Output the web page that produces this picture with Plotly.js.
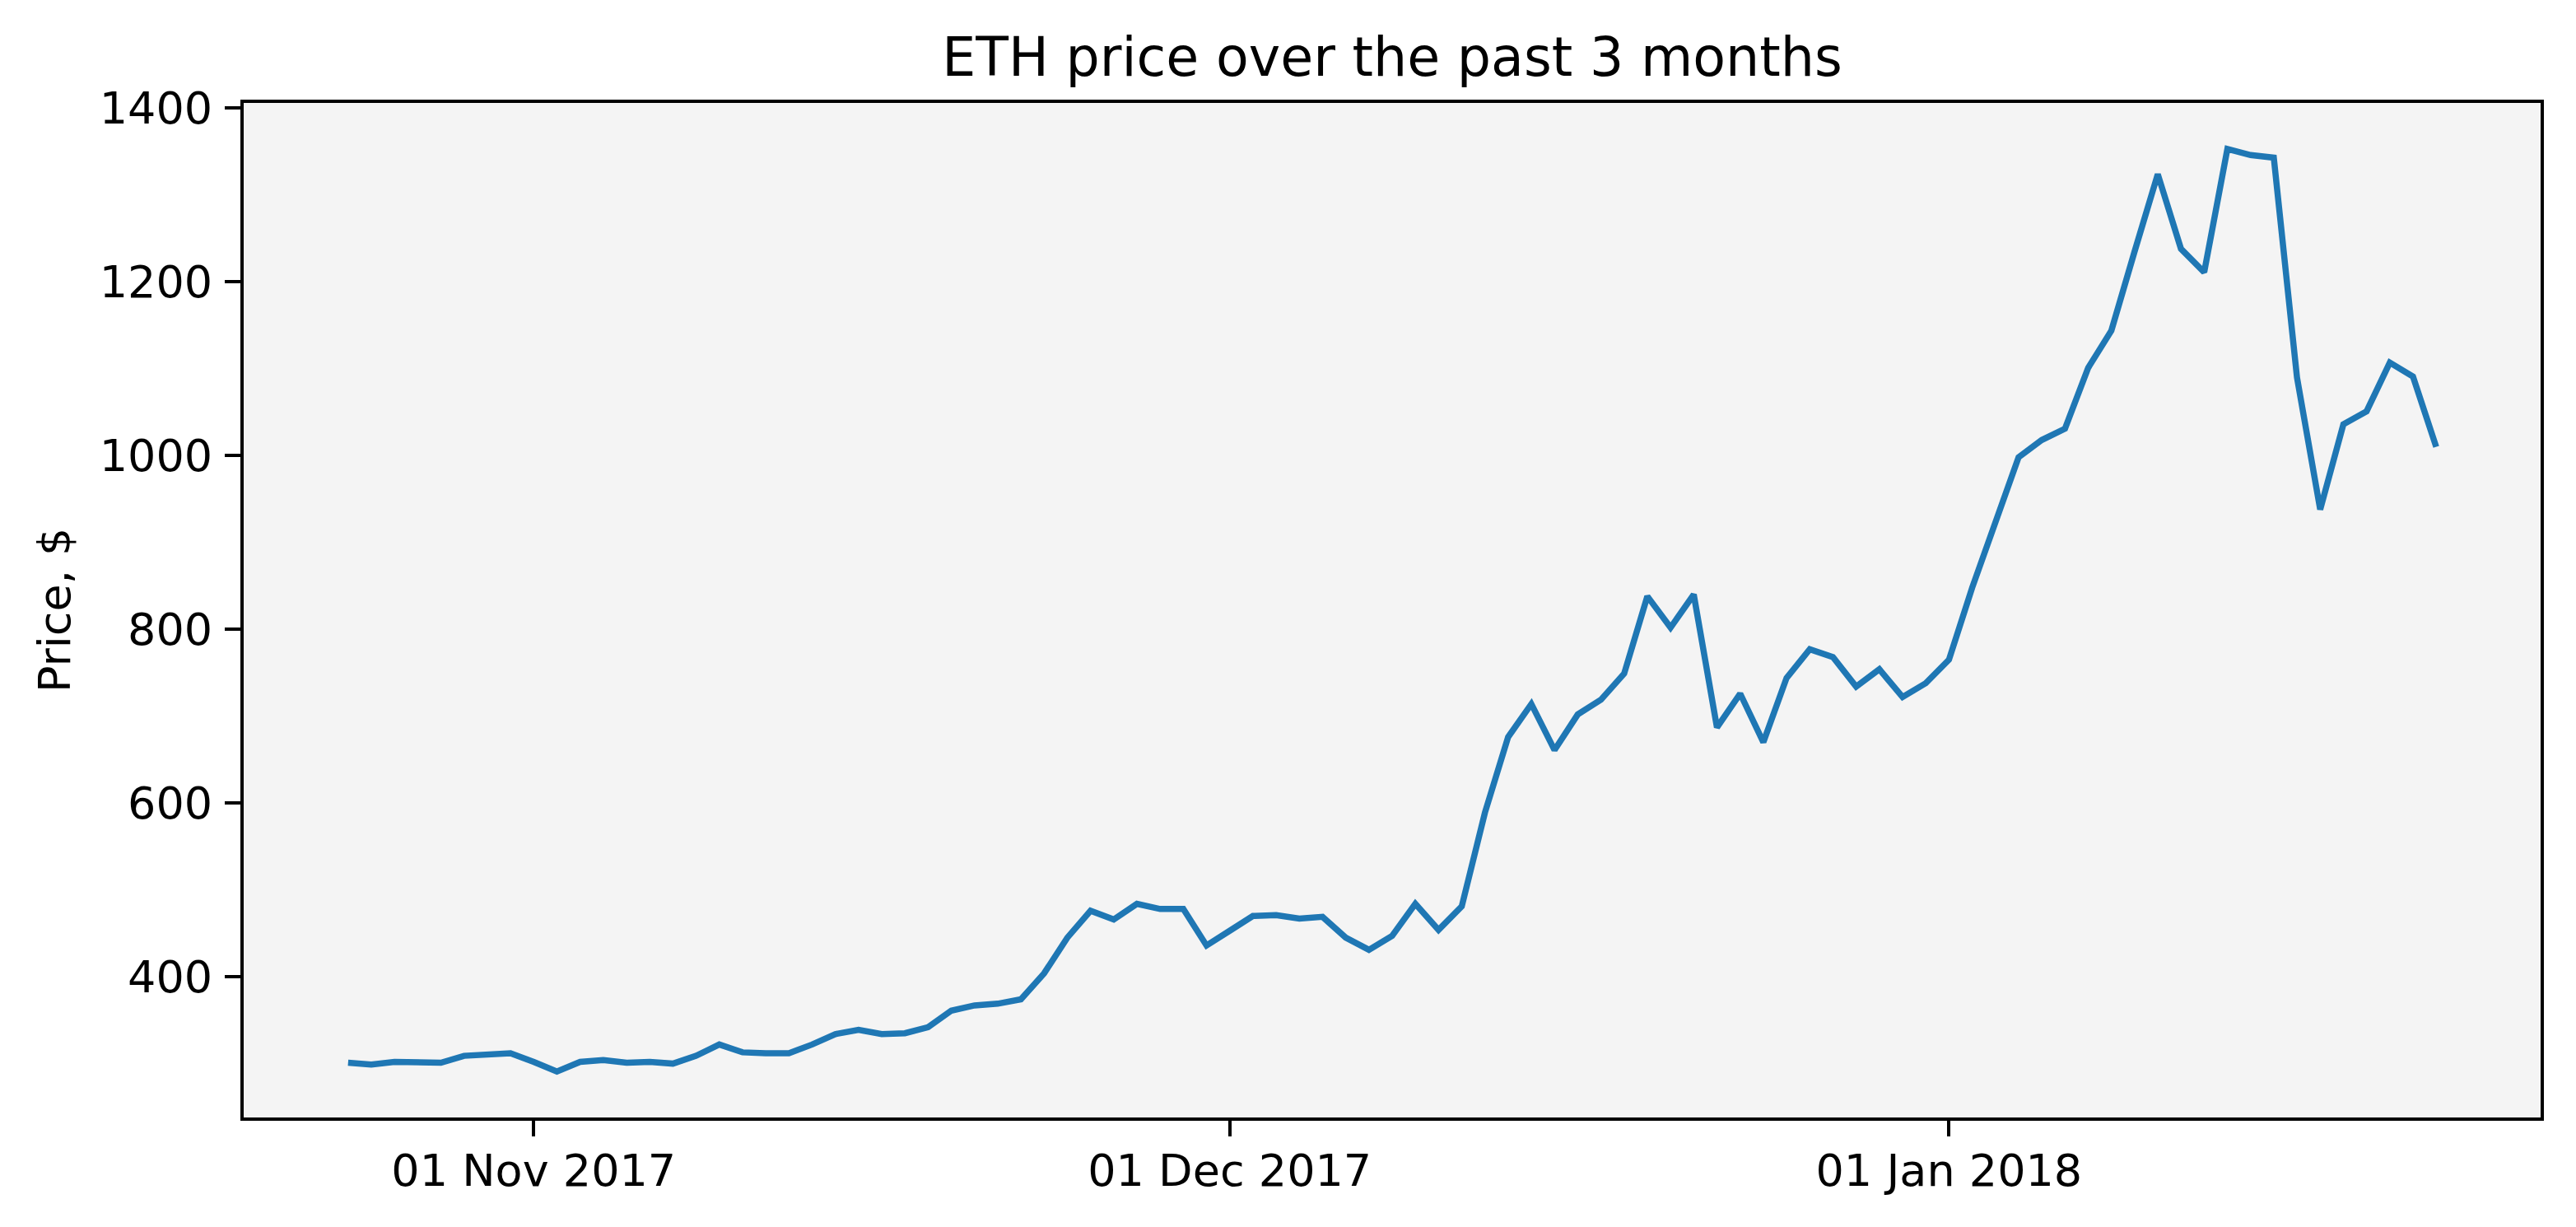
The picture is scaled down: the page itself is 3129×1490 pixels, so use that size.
<!DOCTYPE html>
<html>
<head>
<meta charset="utf-8">
<script src="https://cdn.plot.ly/plotly-3.0.1.min.js"></script>
<style>
  html, body { margin: 0; padding: 0; background: #ffffff; }
  #chart { width: 3129px; height: 1490px; }
</style>
</head>
<body>
<div id="chart"></div>
<script>
// daily ETH close, 24 Oct 2017 .. 22 Jan 2018

var dates = [
  '2017-10-24', '2017-10-25', '2017-10-26', '2017-10-27', '2017-10-28', '2017-10-29', '2017-10-30', '2017-10-31',
  '2017-11-01', '2017-11-02', '2017-11-03', '2017-11-04', '2017-11-05', '2017-11-06', '2017-11-07', '2017-11-08',
  '2017-11-09', '2017-11-10', '2017-11-11', '2017-11-12', '2017-11-13', '2017-11-14', '2017-11-15', '2017-11-16',
  '2017-11-17', '2017-11-18', '2017-11-19', '2017-11-20', '2017-11-21', '2017-11-22', '2017-11-23', '2017-11-24',
  '2017-11-25', '2017-11-26', '2017-11-27', '2017-11-28', '2017-11-29', '2017-11-30',
  '2017-12-01', '2017-12-02', '2017-12-03', '2017-12-04', '2017-12-05', '2017-12-06', '2017-12-07', '2017-12-08',
  '2017-12-09', '2017-12-10', '2017-12-11', '2017-12-12', '2017-12-13', '2017-12-14', '2017-12-15', '2017-12-16',
  '2017-12-17', '2017-12-18', '2017-12-19', '2017-12-20', '2017-12-21', '2017-12-22', '2017-12-23', '2017-12-24',
  '2017-12-25', '2017-12-26', '2017-12-27', '2017-12-28', '2017-12-29', '2017-12-30', '2017-12-31',
  '2018-01-01', '2018-01-02', '2018-01-03', '2018-01-04', '2018-01-05', '2018-01-06', '2018-01-07', '2018-01-08',
  '2018-01-09', '2018-01-10', '2018-01-11', '2018-01-12', '2018-01-13', '2018-01-14', '2018-01-15', '2018-01-16',
  '2018-01-17', '2018-01-18', '2018-01-19', '2018-01-20', '2018-01-21', '2018-01-22'
];

var prices = [
  301, 299, 302, 301, 301, 309, 311, 312,
  302, 291, 302, 304, 301, 302, 300, 309,
  322, 313, 312, 312, 322, 334, 339, 334,
  335, 342, 361, 367, 369, 374, 404, 445,
  476, 466, 484, 478, 478, 436,
  453, 470, 471, 467, 469, 445, 431, 447,
  484, 454, 481, 589, 676, 714, 661, 702,
  719, 749, 838, 802, 840, 687, 726, 670,
  744, 777, 768, 734, 754, 722, 738,
  765, 848, 922, 998, 1018, 1031, 1101, 1144,
  1235, 1324, 1238, 1211, 1353, 1346, 1343, 1090,
  938, 1036, 1051, 1107, 1091, 1010
];

var xTickVals = ['2017-11-01', '2017-12-01', '2018-01-01'];
var yTickVals = [400, 600, 800, 1000, 1200, 1400];

var chartTitle = 'ETH price over the past 3 months';
var yLabel = 'Price, $';

var font = 'DejaVu Sans, sans-serif';

var trace = {
    x: dates,
    y: prices,
    type: 'scatter',
    mode: 'lines',
    line: {color: '#1f77b4', width: 7.5},
    hoverinfo: 'x+y'
};

var layout = {
    width: 3129,
    height: 1490,
    paper_bgcolor: '#ffffff',
    plot_bgcolor: '#f4f4f4',
    showlegend: false,
    font: {family: font, size: 54, color: '#000000'},
    margin: {l: 296, r: 43, t: 125, b: 133, pad: 0},
    title: {
        text: chartTitle,
        font: {family: font, size: 65, color: '#000000'},
        x: 0.5,
        xref: 'paper',
        xanchor: 'center',
        y: 1 - 69 / 1490,
        yref: 'container',
        yanchor: 'middle'
    },
    xaxis: {
        type: 'date',
        range: ['2017-10-19 12:00', '2018-01-26 12:00'],
        tickmode: 'array',
        tickvals: xTickVals,
        tickformat: '%d %b %Y',
        ticks: 'outside',
        ticklen: 19,
        tickwidth: 4,
        tickcolor: '#000000',
        ticklabelstandoff: -5,
        tickfont: {family: font, size: 54, color: '#000000'},
        showline: true,
        linecolor: '#000000',
        linewidth: 4,
        mirror: true,
        showgrid: false,
        zeroline: false,
        automargin: false
    },
    yaxis: {
        range: [238, 1406],
        tickmode: 'array',
        tickvals: yTickVals,
        ticks: 'outside',
        ticklen: 19,
        tickwidth: 4,
        tickcolor: '#000000',
        ticklabelstandoff: 4,
        tickfont: {family: font, size: 54, color: '#000000'},
        showline: true,
        linecolor: '#000000',
        linewidth: 4,
        mirror: true,
        showgrid: false,
        zeroline: false,
        automargin: false
    },
    annotations: [{
        text: yLabel,
        xref: 'paper',
        yref: 'paper',
        x: (66 - 296) / 2790,
        y: 0.5,
        xanchor: 'center',
        yanchor: 'middle',
        textangle: -90,
        showarrow: false,
        font: {family: font, size: 54, color: '#000000'}
    }]
};

Plotly.newPlot('chart', [trace], layout, {displayModeBar: false, staticPlot: true});
</script>
</body>
</html>
